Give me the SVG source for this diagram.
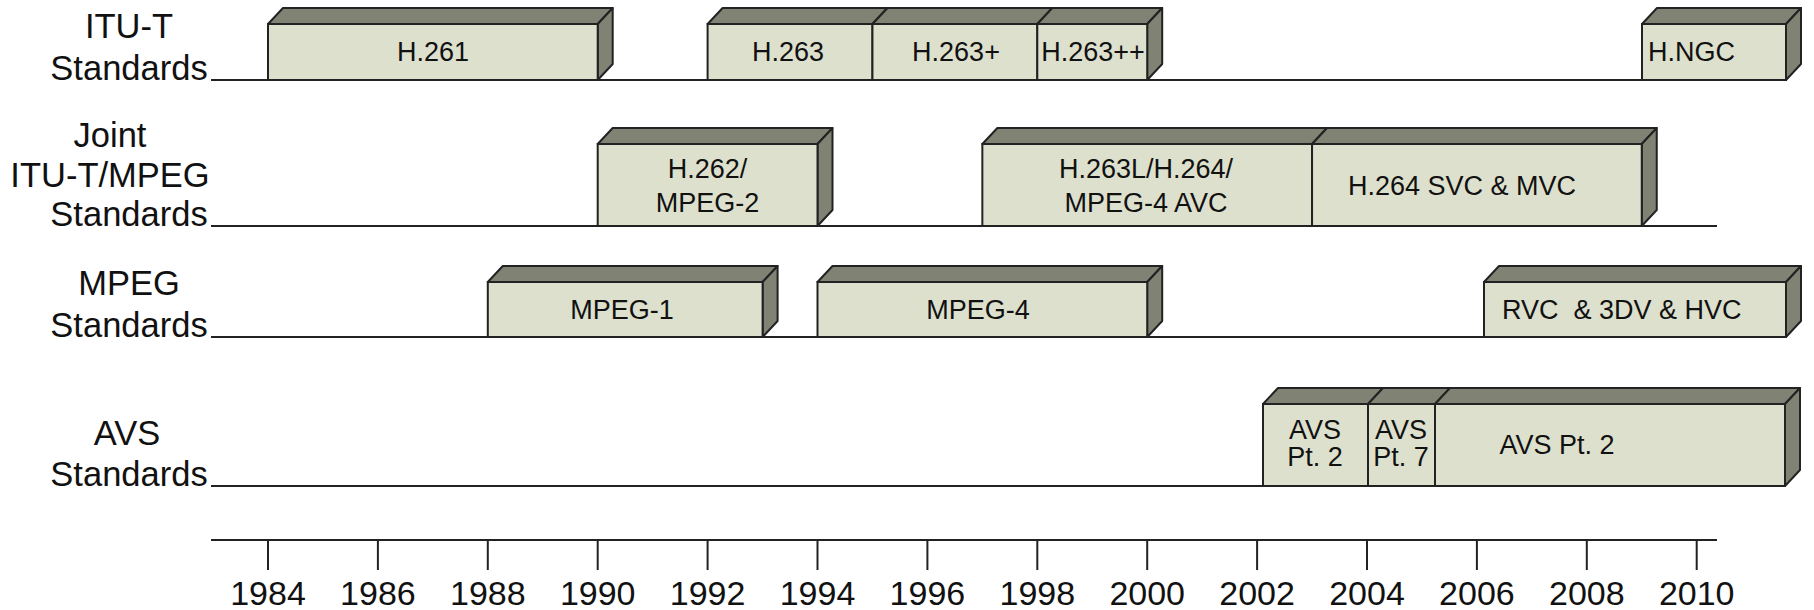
<svg xmlns="http://www.w3.org/2000/svg" width="1814" height="610" viewBox="0 0 1814 610">
<style>
.front{fill:#dde0cd;stroke:#222;stroke-width:2}
.top{fill:#808273;stroke:#222;stroke-width:2;stroke-linejoin:round}
.ln{stroke:#222;stroke-width:2;fill:none}
.row{font-family:"Liberation Sans",Arial,sans-serif;font-size:34.5px;fill:#111;text-anchor:middle}
.lbl{font-family:"Liberation Sans",Arial,sans-serif;font-size:27px;fill:#111;text-anchor:middle}
.yr{font-family:"Liberation Sans",Arial,sans-serif;font-size:34px;fill:#111;text-anchor:middle}
</style>
<rect width="1814" height="610" fill="#fff"/>
<g id="connectors">
<line class="ln" x1="211" y1="80" x2="1717" y2="80"/>
<line class="ln" x1="211" y1="226" x2="1717" y2="226"/>
<line class="ln" x1="211" y1="337" x2="1717" y2="337"/>
<line class="ln" x1="211" y1="486" x2="1717" y2="486"/>
<line class="ln" x1="211" y1="540" x2="1717" y2="540"/>
<g class="ln">
<line x1="268" y1="540" x2="268" y2="570"/>
<line x1="377.9" y1="540" x2="377.9" y2="570"/>
<line x1="487.8" y1="540" x2="487.8" y2="570"/>
<line x1="597.7" y1="540" x2="597.7" y2="570"/>
<line x1="707.6" y1="540" x2="707.6" y2="570"/>
<line x1="817.5" y1="540" x2="817.5" y2="570"/>
<line x1="927.4" y1="540" x2="927.4" y2="570"/>
<line x1="1037.3" y1="540" x2="1037.3" y2="570"/>
<line x1="1147.2" y1="540" x2="1147.2" y2="570"/>
<line x1="1257.1" y1="540" x2="1257.1" y2="570"/>
<line x1="1367" y1="540" x2="1367" y2="570"/>
<line x1="1476.9" y1="540" x2="1476.9" y2="570"/>
<line x1="1586.8" y1="540" x2="1586.8" y2="570"/>
<line x1="1696.7" y1="540" x2="1696.7" y2="570"/>
</g>
</g>
<g id="row-labels">
<text class="row" x="129" y="38">ITU-T</text>
<text class="row" x="129" y="80">Standards</text>
<text class="row" x="110" y="147">Joint</text>
<text class="row" x="110" y="187">ITU-T/MPEG</text>
<text class="row" x="129" y="226">Standards</text>
<text class="row" x="129" y="295">MPEG</text>
<text class="row" x="129" y="337">Standards</text>
<text class="row" x="127" y="445">AVS</text>
<text class="row" x="129" y="486">Standards</text>
</g>
<g id="years">
<text class="yr" x="268" y="605">1984</text>
<text class="yr" x="377.9" y="605">1986</text>
<text class="yr" x="487.8" y="605">1988</text>
<text class="yr" x="597.7" y="605">1990</text>
<text class="yr" x="707.6" y="605">1992</text>
<text class="yr" x="817.5" y="605">1994</text>
<text class="yr" x="927.4" y="605">1996</text>
<text class="yr" x="1037.3" y="605">1998</text>
<text class="yr" x="1147.2" y="605">2000</text>
<text class="yr" x="1257.1" y="605">2002</text>
<text class="yr" x="1367" y="605">2004</text>
<text class="yr" x="1476.9" y="605">2006</text>
<text class="yr" x="1586.8" y="605">2008</text>
<text class="yr" x="1696.7" y="605">2010</text>
</g>
<g id="h261">
<polygon class="top" points="268,24 283,8 612.7,8 597.7,24"/>
<polygon class="top" points="597.7,24 612.7,8 612.7,64 597.7,80"/>
<rect class="front" x="268" y="24" width="329.7" height="56"/>
<text class="lbl" x="433" y="61">H.261</text>
</g>
<g id="h263">
<polygon class="top" points="707.6,24 722.6,8 887.45,8 872.45,24"/>
<rect class="front" x="707.6" y="24" width="164.85" height="56"/>
<text class="lbl" x="788" y="61">H.263</text>
</g>
<g id="h263p">
<polygon class="top" points="872.45,24 887.45,8 1052.3,8 1037.3,24"/>
<rect class="front" x="872.45" y="24" width="164.85" height="56"/>
<text class="lbl" x="956" y="61">H.263+</text>
</g>
<g id="h263pp">
<polygon class="top" points="1037.3,24 1052.3,8 1162.2,8 1147.2,24"/>
<polygon class="top" points="1147.2,24 1162.2,8 1162.2,64 1147.2,80"/>
<rect class="front" x="1037.3" y="24" width="109.9" height="56"/>
<text class="lbl" x="1093" y="61">H.263++</text>
</g>
<g id="hngc">
<polygon class="top" points="1642,24 1657,8 1801,8 1786,24"/>
<polygon class="top" points="1786,24 1801,8 1801,64 1786,80"/>
<rect class="front" x="1642" y="24" width="144" height="56"/>
<text class="lbl" x="1648" y="61" style="text-anchor:start">H.NGC</text>
</g>
<g id="h262">
<polygon class="top" points="597.7,144 612.7,128 832.5,128 817.5,144"/>
<polygon class="top" points="817.5,144 832.5,128 832.5,210 817.5,226"/>
<rect class="front" x="597.7" y="144" width="219.8" height="82"/>
<text class="lbl" x="707.6" y="178">H.262/</text>
<text class="lbl" x="707.6" y="212">MPEG-2</text>
</g>
<g id="h264">
<polygon class="top" points="982.35,144 997.35,128 1327.05,128 1312.05,144"/>
<rect class="front" x="982.35" y="144" width="329.7" height="82"/>
<text class="lbl" x="1146" y="178">H.263L/H.264/</text>
<text class="lbl" x="1146" y="212">MPEG-4 AVC</text>
</g>
<g id="h264svc">
<polygon class="top" points="1312.05,144 1327.05,128 1656.75,128 1641.75,144"/>
<polygon class="top" points="1641.75,144 1656.75,128 1656.75,210 1641.75,226"/>
<rect class="front" x="1312.05" y="144" width="329.7" height="82"/>
<text class="lbl" x="1462" y="195">H.264 SVC &amp; MVC</text>
</g>
<g id="mpeg1">
<polygon class="top" points="487.8,282 502.8,266 777.6,266 762.6,282"/>
<polygon class="top" points="762.6,282 777.6,266 777.6,321 762.6,337"/>
<rect class="front" x="487.8" y="282" width="274.8" height="55"/>
<text class="lbl" x="622" y="319">MPEG-1</text>
</g>
<g id="mpeg4">
<polygon class="top" points="817.5,282 832.5,266 1162.2,266 1147.2,282"/>
<polygon class="top" points="1147.2,282 1162.2,266 1162.2,321 1147.2,337"/>
<rect class="front" x="817.5" y="282" width="329.7" height="55"/>
<text class="lbl" x="978" y="319">MPEG-4</text>
</g>
<g id="rvc">
<polygon class="top" points="1484,282 1499,266 1801,266 1786,282"/>
<polygon class="top" points="1786,282 1801,266 1801,321 1786,337"/>
<rect class="front" x="1484" y="282" width="302" height="55"/>
<text class="lbl" x="1502" y="319" style="text-anchor:start" xml:space="preserve">RVC  &amp; 3DV &amp; HVC</text>
</g>
<g id="avs2a">
<polygon class="top" points="1263,404 1278,388 1383,388 1368,404"/>
<rect class="front" x="1263" y="404" width="105" height="82"/>
<text class="lbl" x="1315" y="439">AVS</text>
<text class="lbl" x="1315" y="466">Pt. 2</text>
</g>
<g id="avs7">
<polygon class="top" points="1368,404 1383,388 1450,388 1435,404"/>
<rect class="front" x="1368" y="404" width="67" height="82"/>
<text class="lbl" x="1401" y="439">AVS</text>
<text class="lbl" x="1401" y="466">Pt. 7</text>
</g>
<g id="avs2b">
<polygon class="top" points="1435,404 1450,388 1800,388 1785,404"/>
<polygon class="top" points="1785,404 1800,388 1800,470 1785,486"/>
<rect class="front" x="1435" y="404" width="350" height="82"/>
<text class="lbl" x="1557" y="454">AVS Pt. 2</text>
</g>
</svg>
